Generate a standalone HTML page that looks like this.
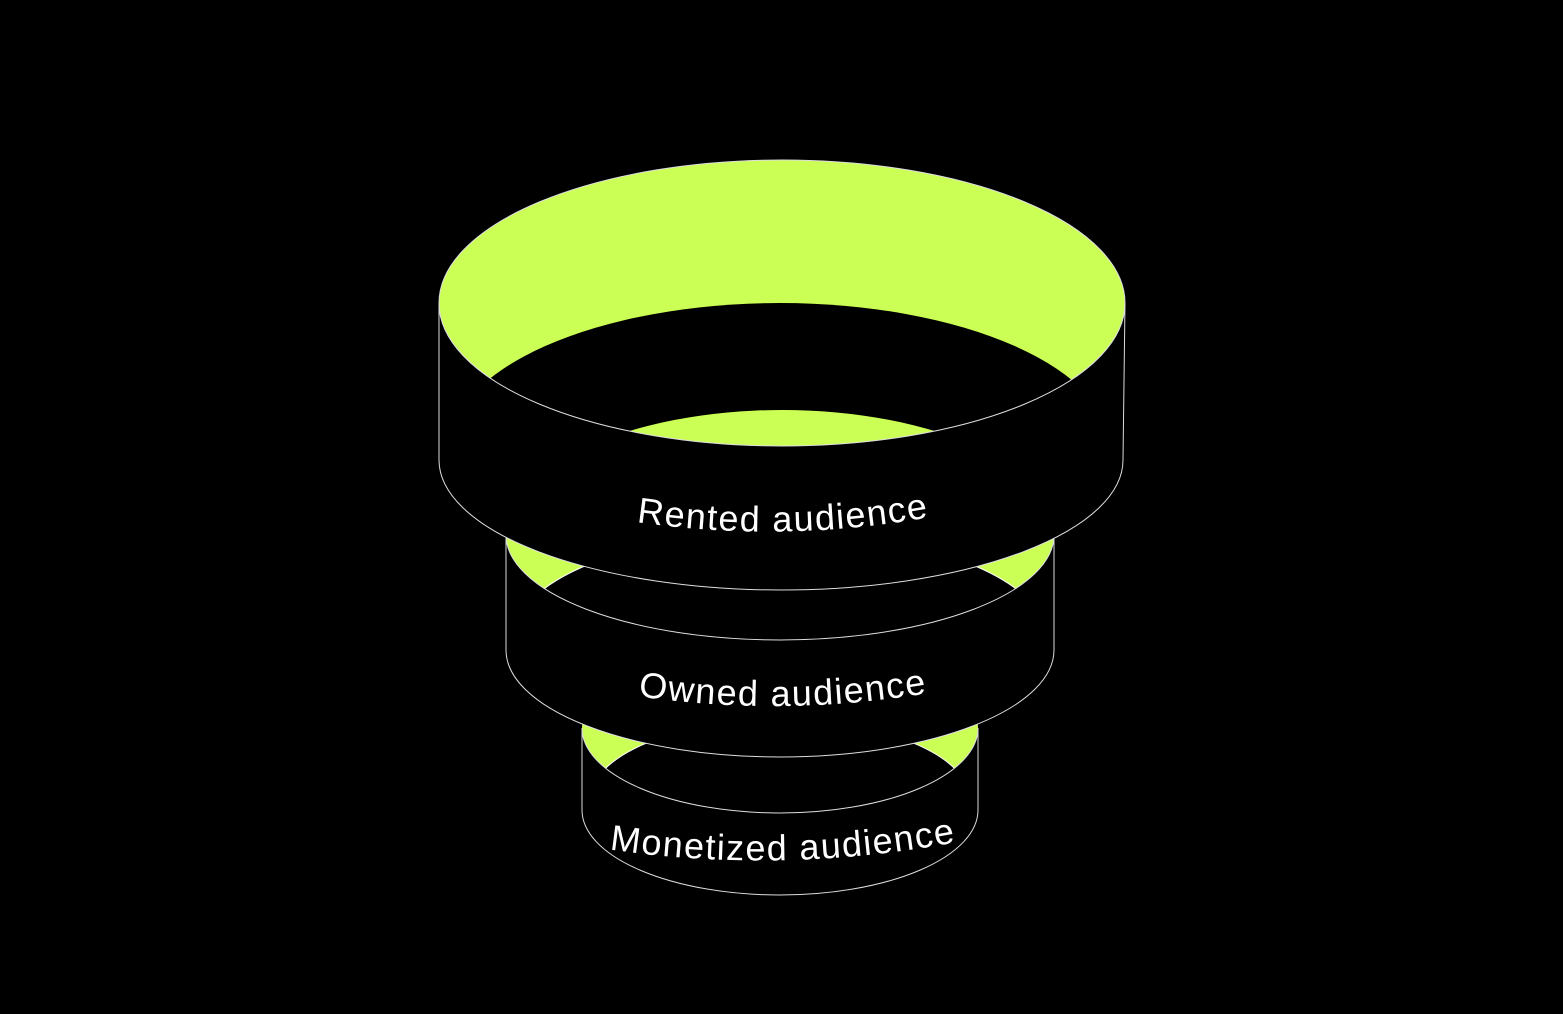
<!DOCTYPE html>
<html><head><meta charset="utf-8"><style>
html,body{margin:0;padding:0;background:#000;width:1563px;height:1014px;overflow:hidden}
text{font-family:"Liberation Sans",sans-serif;fill:#fff;font-size:36px;letter-spacing:1.5px}
</style></head><body>
<svg width="1563" height="1014" viewBox="0 0 1563 1014" xmlns="http://www.w3.org/2000/svg">
<defs>
<clipPath id="c1"><ellipse cx="782" cy="303" rx="343" ry="143"/></clipPath>
<clipPath id="c1i"><ellipse cx="780" cy="450" rx="332" ry="147"/></clipPath>
<clipPath id="c2"><ellipse cx="780" cy="535" rx="274" ry="105"/></clipPath>
<clipPath id="c3"><ellipse cx="780" cy="728" rx="198" ry="85"/></clipPath>
<path id="t1" d="M600 516 Q783 550 966 510"/>
<path id="t2" d="M600 690 Q783 724 966 686"/>
<path id="t3" d="M570 843 Q783 882 996 834"/>
</defs>
<ellipse cx="780" cy="728" rx="198" ry="85" fill="#ccff55"/>
<g clip-path="url(#c3)"><ellipse cx="780" cy="800" rx="190" ry="80" fill="#000" stroke="#fff" stroke-width="1"/></g>
<path d="M582 728 A198 85 0 0 0 978 728 L978 810 A198 85 0 0 1 582 810 Z" fill="#000" stroke="#ddd" stroke-width="1"/>
<ellipse cx="780" cy="535" rx="274" ry="105" fill="#ccff55"/>
<g clip-path="url(#c2)"><ellipse cx="780" cy="640" rx="268" ry="108" fill="#000" stroke="#fff" stroke-width="1"/></g>
<path d="M506 535 A274 105 0 0 0 1054 535 L1054 650 A274 107 0 0 1 506 650 Z" fill="#000" stroke="#ddd" stroke-width="1"/>
<ellipse cx="782" cy="303" rx="343" ry="143" fill="#ccff55" stroke="#ddd" stroke-width="1"/>
<g clip-path="url(#c1)"><ellipse cx="780" cy="450" rx="332" ry="147" fill="#000"/>
<g clip-path="url(#c1i)"><ellipse cx="782" cy="540" rx="280" ry="130" fill="#ccff55"/></g></g>
<path d="M439 303 A343 143 0 0 0 1125 303 L1123 460 A342 130 0 0 1 439 460 Z" fill="#000" stroke="#ddd" stroke-width="1"/>
<text><textPath href="#t1" startOffset="50%" text-anchor="middle">Rented audience</textPath></text>
<text><textPath href="#t2" startOffset="50%" text-anchor="middle">Owned audience</textPath></text>
<text><textPath href="#t3" startOffset="50%" text-anchor="middle">Monetized audience</textPath></text>
</svg>
</body></html>
